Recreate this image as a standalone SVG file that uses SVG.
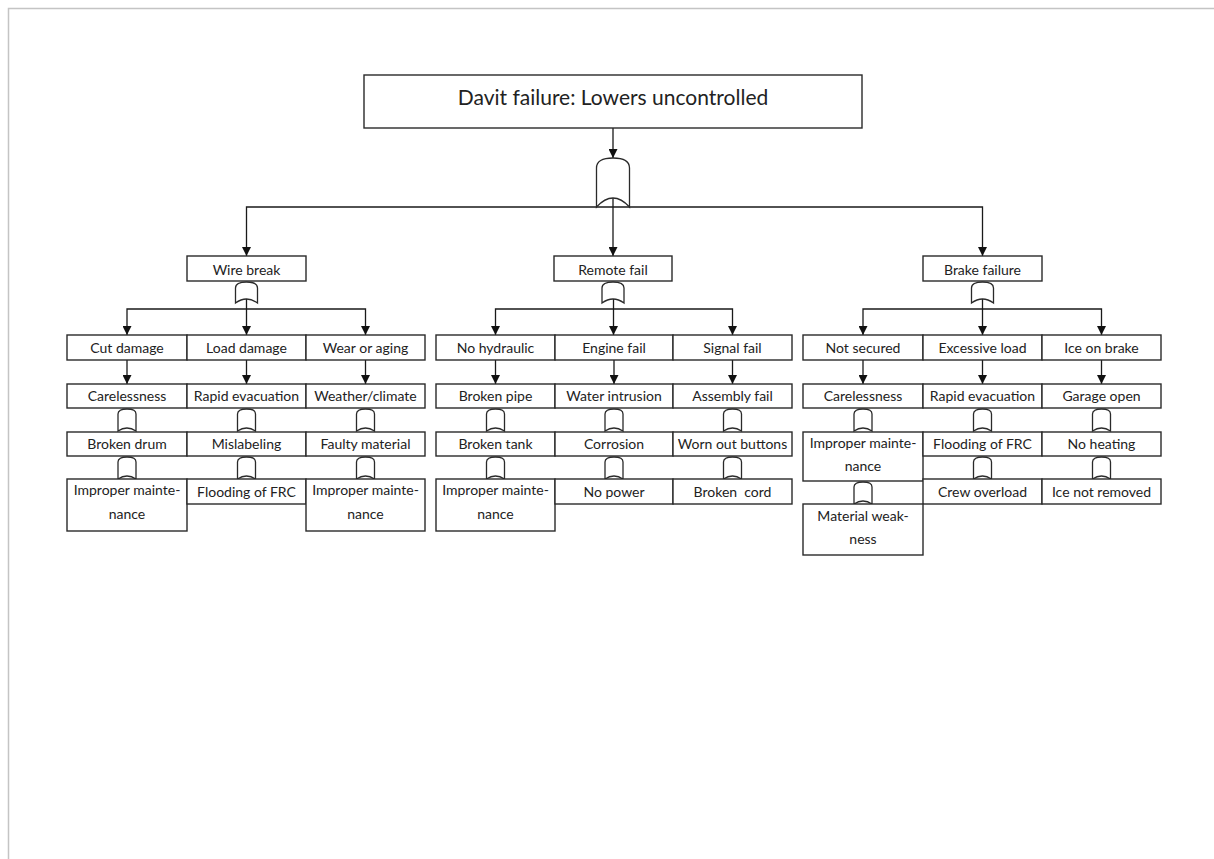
<svg xmlns="http://www.w3.org/2000/svg" width="1214" height="859" viewBox="0 0 1214 859">
<style>
.b{fill:#fff;stroke:#2a2a2a;stroke-width:1.4}
.t{font-family:Lato,"Liberation Sans",sans-serif;font-size:14px;fill:#222;text-anchor:middle;white-space:pre}
.tt{font-family:Lato,"Liberation Sans",sans-serif;font-size:21px;fill:#222;text-anchor:middle}
.c{fill:none;stroke:#1a1a1a;stroke-width:1.3}
.g{fill:#fff;stroke:#2a2a2a;stroke-width:1.3}
</style>
<defs>
<marker id="ar" markerUnits="userSpaceOnUse" markerWidth="9" markerHeight="9" refX="9" refY="4.5" orient="auto">
<path d="M0,0 L9,4.5 L0,9 Z" fill="#111"/>
</marker>
<path id="gs" d="M-9,22 L-9,5 Q-9,0 0,0 Q9,0 9,5 L9,22 Q0,16 -9,22 Z"/>
<path id="gm" d="M-11,21 L-11,6 Q-11,0 0,0 Q11,0 11,6 L11,21 Q0,13 -11,21 Z"/>
<path id="gb" d="M-16.5,49 L-16.5,10 Q-16.5,0 0,0 Q16.5,0 16.5,10 L16.5,49 Q0,31 -16.5,49 Z"/>
</defs>
<rect width="1214" height="859" fill="#fff"/>
<path d="M8.5,859 V8.5 H1214" fill="none" stroke="#c4c4c4" stroke-width="1.5"/>

<g id="connectors">
<path class="c" d="M613,128 V158" marker-end="url(#ar)"/>
<path class="c" d="M613,198 V256" marker-end="url(#ar)"/>
<path class="c" d="M613,207 H246.5 V256" marker-end="url(#ar)"/>
<path class="c" d="M613,207 H982.5 V256" marker-end="url(#ar)"/>
<path class="c" d="M246.5,299 V335" marker-end="url(#ar)"/>
<path class="c" d="M246.5,309 H127 V335" marker-end="url(#ar)"/>
<path class="c" d="M246.5,309 H365.5 V335" marker-end="url(#ar)"/>
<path class="c" d="M613.5,299 V335" marker-end="url(#ar)"/>
<path class="c" d="M613.5,309 H495.5 V335" marker-end="url(#ar)"/>
<path class="c" d="M613.5,309 H732.5 V335" marker-end="url(#ar)"/>
<path class="c" d="M982.5,299 V335" marker-end="url(#ar)"/>
<path class="c" d="M982.5,309 H863 V335" marker-end="url(#ar)"/>
<path class="c" d="M982.5,309 H1101.5 V335" marker-end="url(#ar)"/>
<path class="c" d="M127,360 V384" marker-end="url(#ar)"/>
<path class="c" d="M246.5,360 V384" marker-end="url(#ar)"/>
<path class="c" d="M365.5,360 V384" marker-end="url(#ar)"/>
<path class="c" d="M495.5,360 V384" marker-end="url(#ar)"/>
<path class="c" d="M614,360 V384" marker-end="url(#ar)"/>
<path class="c" d="M732.5,360 V384" marker-end="url(#ar)"/>
<path class="c" d="M863,360 V384" marker-end="url(#ar)"/>
<path class="c" d="M982.5,360 V384" marker-end="url(#ar)"/>
<path class="c" d="M1101.5,360 V384" marker-end="url(#ar)"/>
</g>

<g id="gates">
<use href="#gb" class="g" x="613" y="158"/>
<use href="#gm" class="g" x="246.5" y="282"/>
<use href="#gm" class="g" x="613" y="282"/>
<use href="#gm" class="g" x="982.5" y="282"/>
<use href="#gs" class="g" x="127" y="409"/>
<use href="#gs" class="g" x="246.5" y="409"/>
<use href="#gs" class="g" x="365.5" y="409"/>
<use href="#gs" class="g" x="127" y="457"/>
<use href="#gs" class="g" x="246.5" y="457"/>
<use href="#gs" class="g" x="365.5" y="457"/>
<use href="#gs" class="g" x="495.5" y="409"/>
<use href="#gs" class="g" x="614" y="409"/>
<use href="#gs" class="g" x="732.5" y="409"/>
<use href="#gs" class="g" x="495.5" y="457"/>
<use href="#gs" class="g" x="614" y="457"/>
<use href="#gs" class="g" x="732.5" y="457"/>
<use href="#gs" class="g" x="863" y="409"/>
<use href="#gs" class="g" x="982.5" y="409"/>
<use href="#gs" class="g" x="1101.5" y="409"/>
<use href="#gs" class="g" x="863" y="482"/>
<use href="#gs" class="g" x="982.5" y="457"/>
<use href="#gs" class="g" x="1101.5" y="457"/>
</g>

<g id="top"><rect class="b" x="364" y="75" width="498" height="53"/><text class="tt" x="613" y="105">Davit failure: Lowers uncontrolled</text></g>

<g id="wire-break"><rect class="b" x="187" y="256" width="119" height="25"/><text class="t" x="246.5" y="275">Wire break</text></g>
<g id="remote-fail"><rect class="b" x="554" y="256" width="118" height="25"/><text class="t" x="613" y="275">Remote fail</text></g>
<g id="brake-failure"><rect class="b" x="923" y="256" width="119" height="25"/><text class="t" x="982.5" y="275">Brake failure</text></g>

<g id="cut-damage"><rect class="b" x="67" y="335" width="120" height="25"/><text class="t" x="127" y="353">Cut damage</text></g>
<g id="load-damage"><rect class="b" x="187" y="335" width="119" height="25"/><text class="t" x="246.5" y="353">Load damage</text></g>
<g id="wear-aging"><rect class="b" x="306" y="335" width="119" height="25"/><text class="t" x="365.5" y="353">Wear or aging</text></g>
<g id="carelessness-1"><rect class="b" x="67" y="384" width="120" height="24"/><text class="t" x="127" y="401">Carelessness</text></g>
<g id="rapid-evac-1"><rect class="b" x="187" y="384" width="119" height="24"/><text class="t" x="246.5" y="401">Rapid evacuation</text></g>
<g id="weather"><rect class="b" x="306" y="384" width="119" height="24"/><text class="t" x="365.5" y="401">Weather/climate</text></g>
<g id="broken-drum"><rect class="b" x="67" y="432" width="120" height="24"/><text class="t" x="127" y="449">Broken drum</text></g>
<g id="mislabeling"><rect class="b" x="187" y="432" width="119" height="24"/><text class="t" x="246.5" y="449">Mislabeling</text></g>
<g id="faulty-material"><rect class="b" x="306" y="432" width="119" height="24"/><text class="t" x="365.5" y="449">Faulty material</text></g>
<g id="improper-1"><rect class="b" x="67" y="479" width="120" height="52"/><text class="t" x="127" y="495">Improper mainte-</text><text class="t" x="127" y="519">nance</text></g>
<g id="flooding-1"><rect class="b" x="187" y="479" width="119" height="25"/><text class="t" x="246.5" y="497">Flooding of FRC</text></g>
<g id="improper-2"><rect class="b" x="306" y="479" width="119" height="52"/><text class="t" x="365.5" y="495">Improper mainte-</text><text class="t" x="365.5" y="519">nance</text></g>

<g id="no-hydraulic"><rect class="b" x="436" y="335" width="119" height="25"/><text class="t" x="495.5" y="353">No hydraulic</text></g>
<g id="engine-fail"><rect class="b" x="555" y="335" width="118" height="25"/><text class="t" x="614" y="353">Engine fail</text></g>
<g id="signal-fail"><rect class="b" x="673" y="335" width="119" height="25"/><text class="t" x="732.5" y="353">Signal fail</text></g>
<g id="broken-pipe"><rect class="b" x="436" y="384" width="119" height="24"/><text class="t" x="495.5" y="401">Broken pipe</text></g>
<g id="water-intrusion"><rect class="b" x="555" y="384" width="118" height="24"/><text class="t" x="614" y="401">Water intrusion</text></g>
<g id="assembly-fail"><rect class="b" x="673" y="384" width="119" height="24"/><text class="t" x="732.5" y="401">Assembly fail</text></g>
<g id="broken-tank"><rect class="b" x="436" y="432" width="119" height="24"/><text class="t" x="495.5" y="449">Broken tank</text></g>
<g id="corrosion"><rect class="b" x="555" y="432" width="118" height="24"/><text class="t" x="614" y="449">Corrosion</text></g>
<g id="worn-buttons"><rect class="b" x="673" y="432" width="119" height="24"/><text class="t" x="732.5" y="449">Worn out buttons</text></g>
<g id="improper-3"><rect class="b" x="436" y="479" width="119" height="52"/><text class="t" x="495.5" y="495">Improper mainte-</text><text class="t" x="495.5" y="519">nance</text></g>
<g id="no-power"><rect class="b" x="555" y="479" width="118" height="25"/><text class="t" x="614" y="497">No power</text></g>
<g id="broken-cord"><rect class="b" x="673" y="479" width="119" height="25"/><text class="t" x="732.5" y="497">Broken  cord</text></g>

<g id="not-secured"><rect class="b" x="803" y="335" width="120" height="25"/><text class="t" x="863" y="353">Not secured</text></g>
<g id="excessive-load"><rect class="b" x="923" y="335" width="119" height="25"/><text class="t" x="982.5" y="353">Excessive load</text></g>
<g id="ice-on-brake"><rect class="b" x="1042" y="335" width="119" height="25"/><text class="t" x="1101.5" y="353">Ice on brake</text></g>
<g id="carelessness-2"><rect class="b" x="803" y="384" width="120" height="24"/><text class="t" x="863" y="401">Carelessness</text></g>
<g id="rapid-evac-2"><rect class="b" x="923" y="384" width="119" height="24"/><text class="t" x="982.5" y="401">Rapid evacuation</text></g>
<g id="garage-open"><rect class="b" x="1042" y="384" width="119" height="24"/><text class="t" x="1101.5" y="401">Garage open</text></g>
<g id="improper-4"><rect class="b" x="803" y="432" width="120" height="49"/><text class="t" x="863" y="448">Improper mainte-</text><text class="t" x="863" y="471">nance</text></g>
<g id="flooding-2"><rect class="b" x="923" y="432" width="119" height="24"/><text class="t" x="982.5" y="449">Flooding of FRC</text></g>
<g id="no-heating"><rect class="b" x="1042" y="432" width="119" height="24"/><text class="t" x="1101.5" y="449">No heating</text></g>
<g id="crew-overload"><rect class="b" x="923" y="479" width="119" height="25"/><text class="t" x="982.5" y="497">Crew overload</text></g>
<g id="ice-not-removed"><rect class="b" x="1042" y="479" width="119" height="25"/><text class="t" x="1101.5" y="497">Ice not removed</text></g>
<g id="material-weakness"><rect class="b" x="803" y="504" width="120" height="51"/><text class="t" x="863" y="521">Material weak-</text><text class="t" x="863" y="544">ness</text></g>
</svg>
